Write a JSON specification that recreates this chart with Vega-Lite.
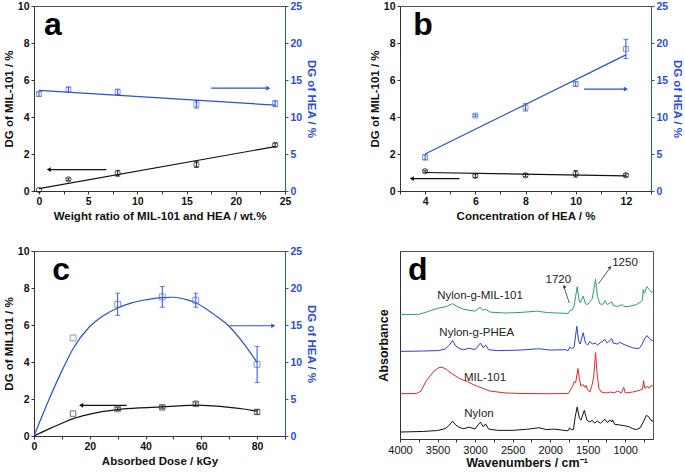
{
"$schema":"https://vega.github.io/schema/vega-lite/v6.json",
"padding":{"left":2,"top":0,"right":2,"bottom":0},
"background":"white",
"config":{"font":"Liberation Sans","view":{"stroke":"#555","strokeWidth":1},
"axis":{"grid":false,"labelFlush":false,"labelFont":"Liberation Sans","titleFont":"Liberation Sans","labelFontSize":10.5,"labelFontWeight":"bold","labelColor":"#111","titleFontSize":11.5,"titleFontWeight":"bold","titleColor":"#111","domainColor":"#333","tickColor":"#333","tickSize":3,"labelPadding":2}},
"columns":2,
"spacing":{"row":22,"column":50},
"concat":[
{"width":251,"height":185,
"encoding":{"x":{"field":"x","type":"quantitative","scale":{"domain":[-0.5,25],"nice":false,"zero":false},"axis":{"values":[0,2.5,5,7.5,10,12.5,15,17.5,20,22.5,25],"labelExpr":"datum.value % 5 == 0 ? datum.label : ''","title":"Weight ratio of MIL-101 and HEA / wt.%","titlePadding":4}}},
"layer":[
{"encoding":{"y":{"field":"y","type":"quantitative","scale":{"domain":[0,10],"nice":false},"axis":{"values":[0,2,4,6,8,10],"title":"DG of MIL-101 / %","titlePadding":3}}},
"layer":[
{"data":{"values":[{"x":0,"y":0.13},{"x":24,"y":2.4}]},"mark":{"type":"line","color":"#111","strokeWidth":1.2},"encoding":{}},
{"data":{"values":[{"x":0,"y":0.05,"e":0},{"x":3,"y":0.63,"e":0.06},{"x":8,"y":0.96,"e":0.16},{"x":16,"y":1.43,"e":0.15},{"x":24,"y":2.49,"e":0.1}]},"transform":[{"filter":"datum.e > 0"}],"mark":{"type":"errorbar","ticks":true,"color":"#111"},"encoding":{"yError":{"field":"e"}}},
{"data":{"values":[{"x":0,"y":0.05},{"x":3,"y":0.63},{"x":8,"y":0.96},{"x":16,"y":1.43},{"x":24,"y":2.49}]},"mark":{"type":"point","shape":"circle","color":"#111","size":28,"strokeWidth":1},"encoding":{}},
{"data":{"values":[{"x":6.85,"x2":1.0,"y":1.16}]},"mark":{"type":"rule","color":"#111","strokeWidth":1.2},"encoding":{"x2":{"field":"x2"}}},
{"data":{"values":[{"x":1.0,"y":1.16}]},"mark":{"type":"point","shape":"triangle-left","filled":true,"color":"#111","size":22,"opacity":1},"encoding":{}},
{"data":{"values":[{"x":1.43,"y":8.97,"t":"a"}]},"mark":{"type":"text","fontSize":32,"fontWeight":"bold","color":"#000","align":"center","baseline":"middle"},"encoding":{"text":{"field":"t"}}}
]},
{"encoding":{"y":{"field":"y","type":"quantitative","scale":{"domain":[0,25],"nice":false},"axis":{"orient":"right","values":[0,5,10,15,20,25],"title":"DG of HEA / %","titlePadding":4,"domainColor":"#2b4de0","tickColor":"#2b4de0","labelColor":"#2b4de0","titleColor":"#2b4de0"}}},
"layer":[
{"data":{"values":[{"x":0,"y":13.6},{"x":24,"y":11.6}]},"mark":{"type":"line","color":"#2b4de0","strokeWidth":1.2},"encoding":{}},
{"data":{"values":[{"x":0,"y":13.1,"e":0.3},{"x":3,"y":13.7,"e":0.35},{"x":8,"y":13.4,"e":0.35},{"x":16,"y":11.7,"e":0.5},{"x":24,"y":11.8,"e":0.4}]},"mark":{"type":"errorbar","ticks":true,"color":"#2b4de0"},"encoding":{"yError":{"field":"e"}}},
{"data":{"values":[{"x":0,"y":13.1},{"x":3,"y":13.7},{"x":8,"y":13.4},{"x":16,"y":11.7},{"x":24,"y":11.8}]},"mark":{"type":"point","shape":"square","color":"#4a6be8","size":24,"strokeWidth":1},"encoding":{}},
{"data":{"values":[{"x":17.5,"x2":23.3,"y":13.9}]},"mark":{"type":"rule","color":"#2b4de0","strokeWidth":1.2},"encoding":{"x2":{"field":"x2"}}},
{"data":{"values":[{"x":23.3,"y":13.9}]},"mark":{"type":"point","shape":"triangle-right","filled":true,"color":"#2b4de0","size":22,"opacity":1},"encoding":{}}
]}
],
"resolve":{"scale":{"y":"independent"}}},

{"width":251,"height":185,
"encoding":{"x":{"field":"x","type":"quantitative","scale":{"domain":[3,13],"nice":false,"zero":false},"axis":{"values":[3,4,5,6,7,8,9,10,11,12,13],"labelExpr":"datum.value % 2 == 0 ? datum.label : ''","title":"Concentration of HEA / %","titlePadding":4}}},
"layer":[
{"encoding":{"y":{"field":"y","type":"quantitative","scale":{"domain":[0,10],"nice":false},"axis":{"values":[0,2,4,6,8,10],"title":"DG of MIL-101 / %","titlePadding":3}}},
"layer":[
{"data":{"values":[{"x":4,"y":1.0},{"x":12,"y":0.82}]},"mark":{"type":"line","color":"#111","strokeWidth":1.2},"encoding":{}},
{"data":{"values":[{"x":4,"y":1.07,"e":0.05},{"x":6,"y":0.82,"e":0.1},{"x":8,"y":0.85,"e":0.08},{"x":10,"y":0.93,"e":0.18},{"x":12,"y":0.85,"e":0.08}]},"mark":{"type":"errorbar","ticks":true,"color":"#111"},"encoding":{"yError":{"field":"e"}}},
{"data":{"values":[{"x":4,"y":1.07},{"x":6,"y":0.82},{"x":8,"y":0.85},{"x":10,"y":0.93},{"x":12,"y":0.85}]},"mark":{"type":"point","shape":"circle","color":"#111","size":28,"strokeWidth":1},"encoding":{}},
{"data":{"values":[{"x":5.37,"x2":3.47,"y":0.67}]},"mark":{"type":"rule","color":"#111","strokeWidth":1.2},"encoding":{"x2":{"field":"x2"}}},
{"data":{"values":[{"x":3.47,"y":0.67}]},"mark":{"type":"point","shape":"triangle-left","filled":true,"color":"#111","size":22,"opacity":1},"encoding":{}},
{"data":{"values":[{"x":3.92,"y":9.0,"t":"b"}]},"mark":{"type":"text","fontSize":32,"fontWeight":"bold","color":"#000","align":"center","baseline":"middle"},"encoding":{"text":{"field":"t"}}}
]},
{"encoding":{"y":{"field":"y","type":"quantitative","scale":{"domain":[0,25],"nice":false},"axis":{"orient":"right","values":[0,5,10,15,20,25],"title":"DG of HEA / %","titlePadding":4,"domainColor":"#2b4de0","tickColor":"#2b4de0","labelColor":"#2b4de0","titleColor":"#2b4de0"}}},
"layer":[
{"data":{"values":[{"x":4,"y":5.0},{"x":12,"y":18.4}]},"mark":{"type":"line","color":"#2b4de0","strokeWidth":1.2},"encoding":{}},
{"data":{"values":[{"x":4,"y":4.55,"e":0.35},{"x":6,"y":10.2,"e":0.15},{"x":8,"y":11.3,"e":0.5},{"x":10,"y":14.45,"e":0.3},{"x":12,"y":19.2,"e":1.3}]},"mark":{"type":"errorbar","ticks":true,"color":"#2b4de0"},"encoding":{"yError":{"field":"e"}}},
{"data":{"values":[{"x":4,"y":4.55},{"x":6,"y":10.2},{"x":8,"y":11.3},{"x":10,"y":14.45},{"x":12,"y":19.2}]},"mark":{"type":"point","shape":"square","color":"#4a6be8","size":24,"strokeWidth":1},"encoding":{}},
{"data":{"values":[{"x":10.33,"x2":12.0,"y":13.77}]},"mark":{"type":"rule","color":"#2b4de0","strokeWidth":1.2},"encoding":{"x2":{"field":"x2"}}},
{"data":{"values":[{"x":12.0,"y":13.77}]},"mark":{"type":"point","shape":"triangle-right","filled":true,"color":"#2b4de0","size":22,"opacity":1},"encoding":{}}
]}
],
"resolve":{"scale":{"y":"independent"}}},

{"width":251,"height":185,
"encoding":{"x":{"field":"x","type":"quantitative","scale":{"domain":[0,90],"nice":false,"zero":false},"axis":{"values":[0,10,20,30,40,50,60,70,80,90],"labelExpr":"datum.value % 20 == 0 ? datum.label : ''","title":"Absorbed Dose / kGy","titlePadding":4}}},
"layer":[
{"encoding":{"y":{"field":"y","type":"quantitative","scale":{"domain":[0,10],"nice":false},"axis":{"values":[0,2,4,6,8,10],"title":"DG of MIL101 / %","titlePadding":3}}},
"layer":[
{"data":{"values":[{"x":0,"y":0},{"x":5,"y":0.36},{"x":10,"y":0.69},{"x":14,"y":0.94},{"x":20,"y":1.18},{"x":25,"y":1.33},{"x":30,"y":1.43},{"x":38,"y":1.52},{"x":46,"y":1.57},{"x":52,"y":1.63},{"x":58,"y":1.67},{"x":64,"y":1.63},{"x":70,"y":1.55},{"x":75,"y":1.46},{"x":80,"y":1.34}]},"mark":{"type":"line","color":"#111","strokeWidth":1.2,"interpolate":"monotone"},"encoding":{}},
{"data":{"values":[{"x":14,"y":1.21,"e":0},{"x":30,"y":1.46,"e":0.07},{"x":46,"y":1.55,"e":0.08},{"x":58,"y":1.74,"e":0.1},{"x":80,"y":1.3,"e":0.12}]},"transform":[{"filter":"datum.e > 0"}],"mark":{"type":"errorbar","ticks":true,"color":"#111"},"encoding":{"yError":{"field":"e"}}},
{"data":{"values":[{"x":14,"y":1.21},{"x":30,"y":1.46},{"x":46,"y":1.55},{"x":58,"y":1.74},{"x":80,"y":1.3}]},"mark":{"type":"point","shape":"square","color":"#333","size":30,"strokeWidth":1},"encoding":{}},
{"data":{"values":[{"x":33.2,"x2":16.9,"y":1.66}]},"mark":{"type":"rule","color":"#111","strokeWidth":1.2},"encoding":{"x2":{"field":"x2"}}},
{"data":{"values":[{"x":16.9,"y":1.66}]},"mark":{"type":"point","shape":"triangle-left","filled":true,"color":"#111","size":22,"opacity":1},"encoding":{}},
{"data":{"values":[{"x":9.7,"y":8.97,"t":"c"}]},"mark":{"type":"text","fontSize":32,"fontWeight":"bold","color":"#000","align":"center","baseline":"middle"},"encoding":{"text":{"field":"t"}}}
]},
{"encoding":{"y":{"field":"y","type":"quantitative","scale":{"domain":[0,25],"nice":false},"axis":{"orient":"right","values":[0,5,10,15,20,25],"title":"DG of HEA / %","titlePadding":4,"domainColor":"#2b4de0","tickColor":"#2b4de0","labelColor":"#2b4de0","titleColor":"#2b4de0"}}},
"layer":[
{"data":{"values":[{"x":0,"y":0},{"x":5,"y":4.6},{"x":10,"y":8.8},{"x":14,"y":11.8},{"x":20,"y":14.8},{"x":25,"y":16.3},{"x":30,"y":17.3},{"x":35,"y":18.0},{"x":40,"y":18.4},{"x":46,"y":18.7},{"x":50,"y":18.75},{"x":55,"y":18.4},{"x":58,"y":18.0},{"x":62,"y":17.1},{"x":65,"y":16.3},{"x":70,"y":14.8},{"x":75,"y":12.6},{"x":80,"y":9.95}]},"mark":{"type":"line","color":"#2b4de0","strokeWidth":1.2,"interpolate":"monotone"},"encoding":{}},
{"data":{"values":[{"x":14,"y":13.25,"e":0},{"x":30,"y":17.8,"e":1.5},{"x":46,"y":18.8,"e":1.4},{"x":58,"y":18.35,"e":0.95},{"x":80,"y":9.67,"e":2.45}]},"transform":[{"filter":"datum.e > 0"}],"mark":{"type":"errorbar","ticks":true,"color":"#2b4de0"},"encoding":{"yError":{"field":"e"}}},
{"data":{"values":[{"x":14,"y":13.25},{"x":30,"y":17.8},{"x":46,"y":18.8},{"x":58,"y":18.35},{"x":80,"y":9.67}]},"mark":{"type":"point","shape":"square","color":"#4a6be8","size":34,"strokeWidth":1},"encoding":{}},
{"data":{"values":[{"x":70.1,"x2":85.8,"y":14.9}]},"mark":{"type":"rule","color":"#2b4de0","strokeWidth":1.2},"encoding":{"x2":{"field":"x2"}}},
{"data":{"values":[{"x":85.8,"y":14.9}]},"mark":{"type":"point","shape":"triangle-right","filled":true,"color":"#2b4de0","size":22,"opacity":1},"encoding":{}}
]}
],
"resolve":{"scale":{"y":"independent"}}},

{"width":253,"height":188,
"encoding":{"x":{"field":"x","type":"quantitative","scale":{"domain":[630,4000],"reverse":true,"nice":false,"zero":false},"axis":{"values":[4000,3750,3500,3250,3000,2750,2500,2250,2000,1750,1500,1250,1000,750],"labelExpr":"datum.value % 500 == 0 ? datum.label : ''","format":"d","labelFontWeight":"normal","labelFontSize":11,"title":"Wavenumbers / cm⁻¹","titleFontSize":12.5,"titlePadding":1}},
"y":{"field":"y","type":"quantitative","scale":{"domain":[0,100],"nice":false,"zero":false},"axis":{"labels":false,"ticks":false,"title":"Absorbance","titleFontSize":12.5,"titlePadding":10}}},
"layer":[
{"data":{"name":"spectra"},"mark":{"type":"line","strokeWidth":1,"interpolate":"linear"},"encoding":{"color":{"field":"s","type":"nominal","scale":{"domain":["Nylon","MIL-101","Nylon-g-PHEA","Nylon-g-MIL-101"],"range":["#111111","#e8262a","#2a3fe0","#2e9e6e"]},"legend":null},"order":{"field":"x","type":"quantitative"}}},
{"data":{"values":[{"x":2934,"y":76.2,"t":"Nylon-g-MIL-101"},{"x":2978,"y":56.4,"t":"Nylon-g-PHEA"},{"x":2868,"y":32.4,"t":"MIL-101"},{"x":2948,"y":13.5,"t":"Nylon"},{"x":1891,"y":84.7,"t":"1720"},{"x":1003,"y":93.8,"t":"1250"}]},"mark":{"type":"text","fontSize":11.5,"color":"#222","align":"center","baseline":"middle"},"encoding":{"text":{"field":"t"}}},
{"data":{"values":[{"x":3764,"y":90,"t":"d"}]},"mark":{"type":"text","fontSize":32,"fontWeight":"bold","color":"#000","align":"center","baseline":"middle"},"encoding":{"text":{"field":"t"}}},
{"data":{"values":[{"x":1745,"y":72.3,"x2":1812,"y2":80.5},{"x":1359,"y":82.4,"x2":1210,"y2":90.6}]},"mark":{"type":"rule","color":"#333","strokeWidth":0.8},"encoding":{"x2":{"field":"x2"},"y2":{"field":"y2"}}},
{"data":{"values":[{"x":1812,"y":81.2,"a":-17},{"x":1203,"y":91.3,"a":35}]},"mark":{"type":"point","shape":"triangle-up","filled":true,"color":"#333","size":14,"opacity":1},"encoding":{"angle":{"field":"a","type":"quantitative","scale":null}}}
]}
],
"datasets":{"spectra":[
{"s":"Nylon","x":4000,"y":3.7},{"s":"Nylon","x":3700,"y":4.0},{"s":"Nylon","x":3500,"y":4.5},{"s":"Nylon","x":3400,"y":5.5},{"s":"Nylon","x":3350,"y":7},{"s":"Nylon","x":3300,"y":9.5},{"s":"Nylon","x":3260,"y":7.5},{"s":"Nylon","x":3200,"y":6},{"s":"Nylon","x":3150,"y":5.5},{"s":"Nylon","x":3080,"y":6.3},{"s":"Nylon","x":3000,"y":5.3},{"s":"Nylon","x":2960,"y":7.5},{"s":"Nylon","x":2930,"y":9.0},{"s":"Nylon","x":2890,"y":6.5},{"s":"Nylon","x":2860,"y":8.0},{"s":"Nylon","x":2820,"y":5.3},{"s":"Nylon","x":2700,"y":4.6},{"s":"Nylon","x":2500,"y":4.6},{"s":"Nylon","x":2300,"y":5.2},{"s":"Nylon","x":2150,"y":6.0},{"s":"Nylon","x":2050,"y":5.0},{"s":"Nylon","x":1950,"y":5.3},{"s":"Nylon","x":1800,"y":4.5},{"s":"Nylon","x":1760,"y":4.4},{"s":"Nylon","x":1740,"y":6.0},{"s":"Nylon","x":1720,"y":5.0},{"s":"Nylon","x":1690,"y":5.0},{"s":"Nylon","x":1665,"y":12},{"s":"Nylon","x":1640,"y":17.0},{"s":"Nylon","x":1610,"y":11},{"s":"Nylon","x":1590,"y":10},{"s":"Nylon","x":1545,"y":15.2},{"s":"Nylon","x":1510,"y":10},{"s":"Nylon","x":1470,"y":9},{"s":"Nylon","x":1440,"y":10},{"s":"Nylon","x":1410,"y":8.5},{"s":"Nylon","x":1370,"y":9.5},{"s":"Nylon","x":1330,"y":8.4},{"s":"Nylon","x":1270,"y":10.5},{"s":"Nylon","x":1240,"y":8.8},{"s":"Nylon","x":1200,"y":10.0},{"s":"Nylon","x":1180,"y":9},{"s":"Nylon","x":1170,"y":10.2},{"s":"Nylon","x":1140,"y":7.8},{"s":"Nylon","x":1080,"y":7.5},{"s":"Nylon","x":1000,"y":7.0},{"s":"Nylon","x":950,"y":6.5},{"s":"Nylon","x":900,"y":5.5},{"s":"Nylon","x":850,"y":5.0},{"s":"Nylon","x":800,"y":6.0},{"s":"Nylon","x":760,"y":9.0},{"s":"Nylon","x":720,"y":12.5},{"s":"Nylon","x":690,"y":12.0},{"s":"Nylon","x":660,"y":10.0},{"s":"Nylon","x":630,"y":9.5},
{"s":"MIL-101","x":4000,"y":24.1},{"s":"MIL-101","x":3780,"y":24.2},{"s":"MIL-101","x":3720,"y":25.5},{"s":"MIL-101","x":3650,"y":31},{"s":"MIL-101","x":3550,"y":36},{"s":"MIL-101","x":3480,"y":38},{"s":"MIL-101","x":3440,"y":38.2},{"s":"MIL-101","x":3380,"y":37},{"s":"MIL-101","x":3300,"y":34.5},{"s":"MIL-101","x":3200,"y":32.0},{"s":"MIL-101","x":3100,"y":30.5},{"s":"MIL-101","x":3000,"y":28.5},{"s":"MIL-101","x":2900,"y":27.0},{"s":"MIL-101","x":2800,"y":25.5},{"s":"MIL-101","x":2600,"y":24.5},{"s":"MIL-101","x":2400,"y":24.2},{"s":"MIL-101","x":2000,"y":24.1},{"s":"MIL-101","x":1760,"y":24.2},{"s":"MIL-101","x":1700,"y":28},{"s":"MIL-101","x":1680,"y":30.5},{"s":"MIL-101","x":1660,"y":30},{"s":"MIL-101","x":1630,"y":37.5},{"s":"MIL-101","x":1610,"y":32},{"s":"MIL-101","x":1590,"y":28},{"s":"MIL-101","x":1560,"y":29},{"s":"MIL-101","x":1540,"y":27.5},{"s":"MIL-101","x":1520,"y":28.5},{"s":"MIL-101","x":1500,"y":26},{"s":"MIL-101","x":1470,"y":25},{"s":"MIL-101","x":1440,"y":29},{"s":"MIL-101","x":1420,"y":33},{"s":"MIL-101","x":1395,"y":46.0},{"s":"MIL-101","x":1375,"y":35},{"s":"MIL-101","x":1350,"y":27},{"s":"MIL-101","x":1320,"y":25},{"s":"MIL-101","x":1250,"y":24.5},{"s":"MIL-101","x":1200,"y":25.0},{"s":"MIL-101","x":1150,"y":24.5},{"s":"MIL-101","x":1100,"y":25.5},{"s":"MIL-101","x":1050,"y":24.5},{"s":"MIL-101","x":1020,"y":27.5},{"s":"MIL-101","x":1000,"y":24.5},{"s":"MIL-101","x":900,"y":25},{"s":"MIL-101","x":800,"y":26},{"s":"MIL-101","x":770,"y":26.5},{"s":"MIL-101","x":755,"y":31.0},{"s":"MIL-101","x":740,"y":27},{"s":"MIL-101","x":700,"y":28},{"s":"MIL-101","x":680,"y":27},{"s":"MIL-101","x":650,"y":28.5},{"s":"MIL-101","x":630,"y":28},
{"s":"Nylon-g-PHEA","x":4000,"y":46.6},{"s":"Nylon-g-PHEA","x":3700,"y":46.8},{"s":"Nylon-g-PHEA","x":3500,"y":47.0},{"s":"Nylon-g-PHEA","x":3400,"y":47.8},{"s":"Nylon-g-PHEA","x":3340,"y":50},{"s":"Nylon-g-PHEA","x":3300,"y":52.5},{"s":"Nylon-g-PHEA","x":3260,"y":49.5},{"s":"Nylon-g-PHEA","x":3200,"y":48.0},{"s":"Nylon-g-PHEA","x":3150,"y":47.5},{"s":"Nylon-g-PHEA","x":3080,"y":48.3},{"s":"Nylon-g-PHEA","x":3000,"y":47.5},{"s":"Nylon-g-PHEA","x":2960,"y":49.5},{"s":"Nylon-g-PHEA","x":2930,"y":51.0},{"s":"Nylon-g-PHEA","x":2890,"y":48.5},{"s":"Nylon-g-PHEA","x":2860,"y":50.0},{"s":"Nylon-g-PHEA","x":2820,"y":47.5},{"s":"Nylon-g-PHEA","x":2700,"y":47.0},{"s":"Nylon-g-PHEA","x":2400,"y":47.3},{"s":"Nylon-g-PHEA","x":2150,"y":48.0},{"s":"Nylon-g-PHEA","x":2000,"y":47.3},{"s":"Nylon-g-PHEA","x":1800,"y":47.5},{"s":"Nylon-g-PHEA","x":1760,"y":47.0},{"s":"Nylon-g-PHEA","x":1735,"y":49.0},{"s":"Nylon-g-PHEA","x":1710,"y":48.0},{"s":"Nylon-g-PHEA","x":1680,"y":49},{"s":"Nylon-g-PHEA","x":1645,"y":60.0},{"s":"Nylon-g-PHEA","x":1620,"y":52},{"s":"Nylon-g-PHEA","x":1600,"y":50.5},{"s":"Nylon-g-PHEA","x":1560,"y":56.5},{"s":"Nylon-g-PHEA","x":1530,"y":51},{"s":"Nylon-g-PHEA","x":1500,"y":50},{"s":"Nylon-g-PHEA","x":1470,"y":52},{"s":"Nylon-g-PHEA","x":1440,"y":50.5},{"s":"Nylon-g-PHEA","x":1400,"y":51},{"s":"Nylon-g-PHEA","x":1370,"y":50},{"s":"Nylon-g-PHEA","x":1270,"y":53},{"s":"Nylon-g-PHEA","x":1240,"y":51},{"s":"Nylon-g-PHEA","x":1180,"y":53.5},{"s":"Nylon-g-PHEA","x":1160,"y":51},{"s":"Nylon-g-PHEA","x":1100,"y":50.5},{"s":"Nylon-g-PHEA","x":1080,"y":51.5},{"s":"Nylon-g-PHEA","x":1000,"y":50},{"s":"Nylon-g-PHEA","x":900,"y":48.5},{"s":"Nylon-g-PHEA","x":820,"y":48},{"s":"Nylon-g-PHEA","x":780,"y":50},{"s":"Nylon-g-PHEA","x":740,"y":53.5},{"s":"Nylon-g-PHEA","x":710,"y":55.0},{"s":"Nylon-g-PHEA","x":680,"y":53.5},{"s":"Nylon-g-PHEA","x":650,"y":52.5},{"s":"Nylon-g-PHEA","x":630,"y":52.5},
{"s":"Nylon-g-MIL-101","x":4000,"y":66.1},{"s":"Nylon-g-MIL-101","x":3750,"y":66.3},{"s":"Nylon-g-MIL-101","x":3650,"y":67.5},{"s":"Nylon-g-MIL-101","x":3500,"y":69.5},{"s":"Nylon-g-MIL-101","x":3380,"y":70.5},{"s":"Nylon-g-MIL-101","x":3300,"y":72.0},{"s":"Nylon-g-MIL-101","x":3240,"y":70.5},{"s":"Nylon-g-MIL-101","x":3150,"y":69.0},{"s":"Nylon-g-MIL-101","x":3080,"y":68.5},{"s":"Nylon-g-MIL-101","x":3000,"y":68.0},{"s":"Nylon-g-MIL-101","x":2950,"y":69.5},{"s":"Nylon-g-MIL-101","x":2930,"y":70.0},{"s":"Nylon-g-MIL-101","x":2900,"y":68.5},{"s":"Nylon-g-MIL-101","x":2860,"y":69.0},{"s":"Nylon-g-MIL-101","x":2800,"y":67.5},{"s":"Nylon-g-MIL-101","x":2600,"y":67.0},{"s":"Nylon-g-MIL-101","x":2400,"y":67.3},{"s":"Nylon-g-MIL-101","x":2170,"y":68.0},{"s":"Nylon-g-MIL-101","x":2050,"y":67.3},{"s":"Nylon-g-MIL-101","x":1900,"y":67.0},{"s":"Nylon-g-MIL-101","x":1760,"y":66.8},{"s":"Nylon-g-MIL-101","x":1735,"y":68.5},{"s":"Nylon-g-MIL-101","x":1710,"y":68.5},{"s":"Nylon-g-MIL-101","x":1680,"y":71},{"s":"Nylon-g-MIL-101","x":1640,"y":81.0},{"s":"Nylon-g-MIL-101","x":1615,"y":74},{"s":"Nylon-g-MIL-101","x":1600,"y":72.5},{"s":"Nylon-g-MIL-101","x":1560,"y":76.0},{"s":"Nylon-g-MIL-101","x":1530,"y":72},{"s":"Nylon-g-MIL-101","x":1500,"y":71.5},{"s":"Nylon-g-MIL-101","x":1470,"y":73},{"s":"Nylon-g-MIL-101","x":1440,"y":74.5},{"s":"Nylon-g-MIL-101","x":1395,"y":85.0},{"s":"Nylon-g-MIL-101","x":1370,"y":76},{"s":"Nylon-g-MIL-101","x":1340,"y":72},{"s":"Nylon-g-MIL-101","x":1300,"y":71.5},{"s":"Nylon-g-MIL-101","x":1270,"y":73.5},{"s":"Nylon-g-MIL-101","x":1240,"y":71.5},{"s":"Nylon-g-MIL-101","x":1200,"y":72.5},{"s":"Nylon-g-MIL-101","x":1180,"y":73.0},{"s":"Nylon-g-MIL-101","x":1160,"y":71.0},{"s":"Nylon-g-MIL-101","x":1100,"y":70.5},{"s":"Nylon-g-MIL-101","x":1040,"y":71.5},{"s":"Nylon-g-MIL-101","x":1020,"y":70.5},{"s":"Nylon-g-MIL-101","x":950,"y":70.5},{"s":"Nylon-g-MIL-101","x":850,"y":71.5},{"s":"Nylon-g-MIL-101","x":790,"y":73},{"s":"Nylon-g-MIL-101","x":770,"y":74},{"s":"Nylon-g-MIL-101","x":760,"y":79.5},{"s":"Nylon-g-MIL-101","x":745,"y":77.5},{"s":"Nylon-g-MIL-101","x":710,"y":81.0},{"s":"Nylon-g-MIL-101","x":680,"y":79.5},{"s":"Nylon-g-MIL-101","x":650,"y":78},{"s":"Nylon-g-MIL-101","x":630,"y":78.5}
]}
}
